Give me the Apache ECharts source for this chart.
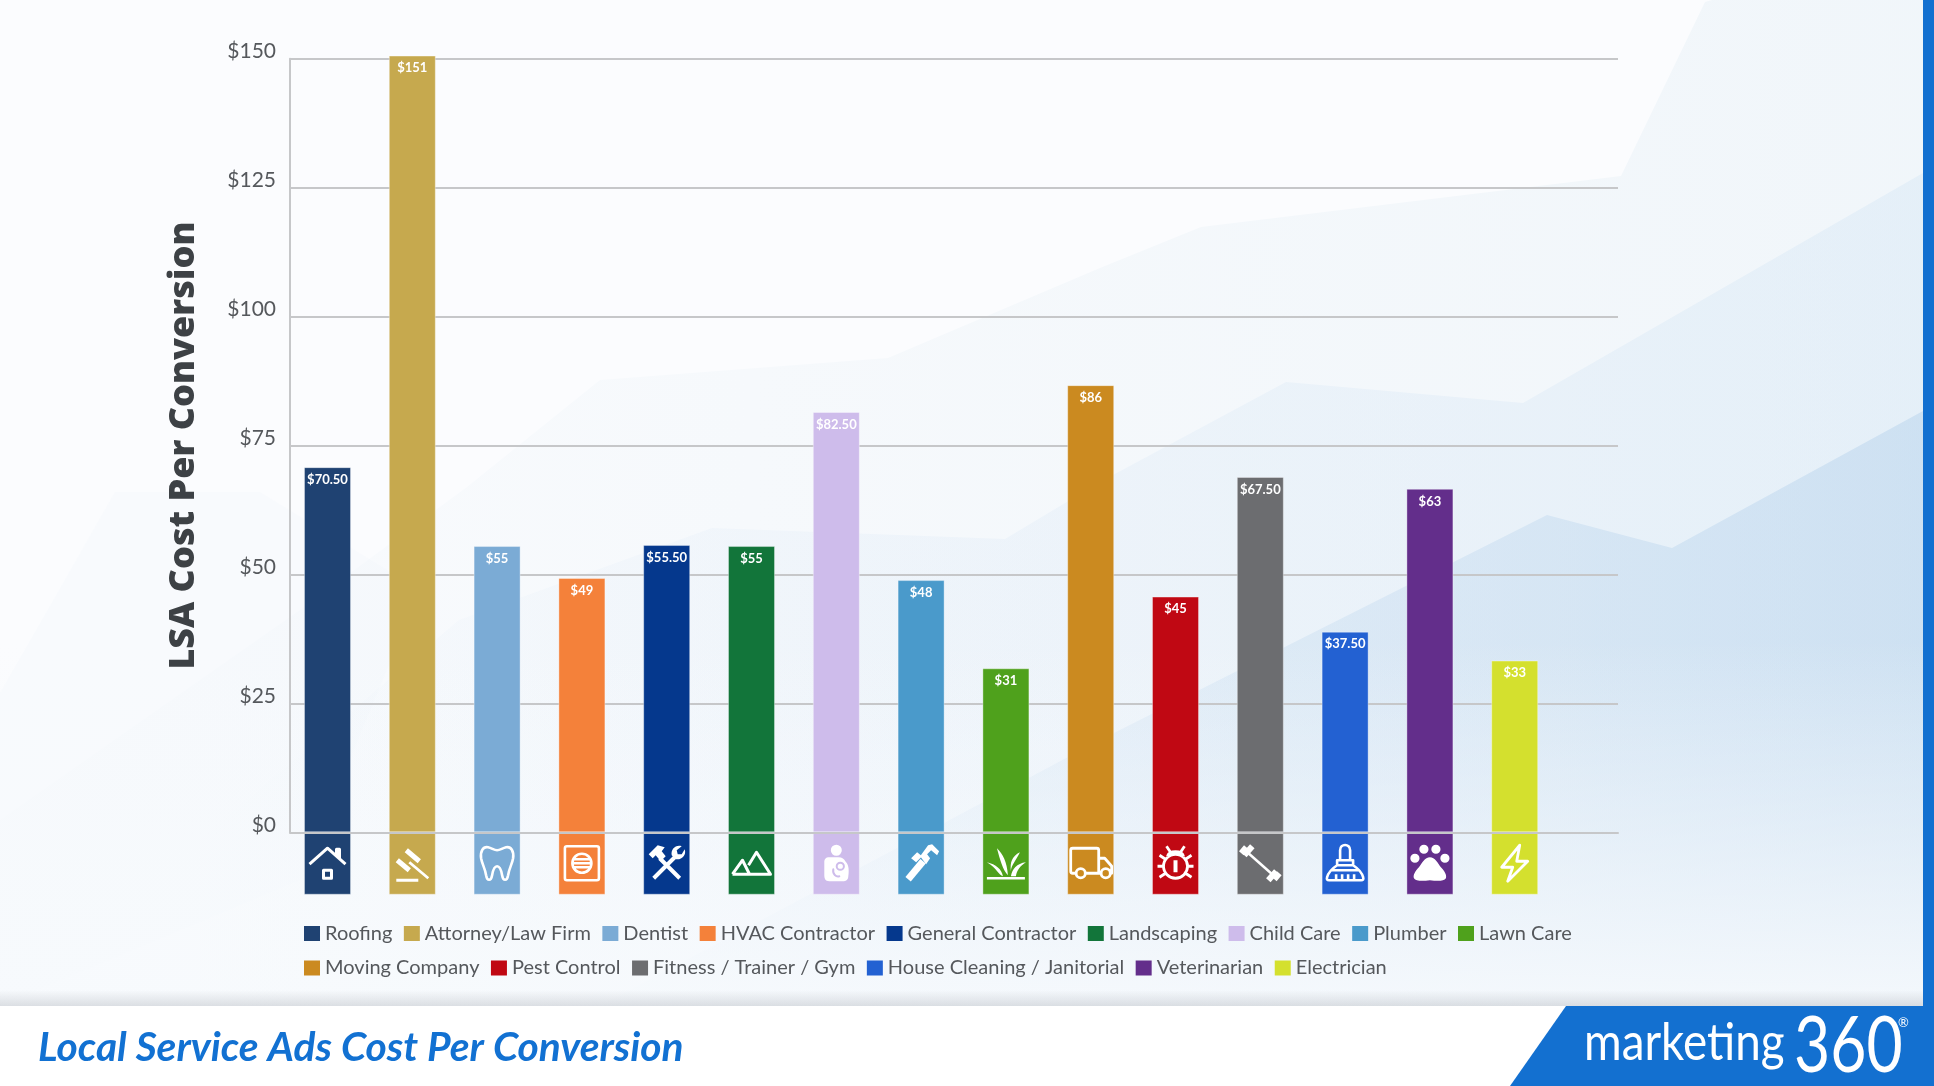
<!DOCTYPE html>
<html><head><meta charset="utf-8">
<style>html,body{margin:0;padding:0;background:#fff}#chart{width:1934px;height:1086px}</style>
<script src="https://cdn.jsdelivr.net/npm/echarts@6/dist/echarts.min.js"></script>
</head><body><div id="chart"></div>
<script>
const categories = ['Roofing','Attorney/Law Firm','Dentist','HVAC Contractor','General Contractor','Landscaping','Child Care','Plumber','Lawn Care','Moving Company','Pest Control','Fitness / Trainer / Gym','House Cleaning / Janitorial','Veterinarian','Electrician'];
const barValues = [70.8,150.6,55.5,49.3,55.7,55.5,81.5,48.9,31.8,86.7,45.7,68.9,38.9,66.6,33.3];
const valueLabels = ['$70.50','$151','$55','$49','$55.50','$55','$82.50','$48','$31','$86','$45','$67.50','$37.50','$63','$33'];
const barColors = ['#1f4272','#c6a94e','#7babd5','#f4813a','#05388d','#12753a','#cebceb','#4a9acb','#4fa11c','#cb8a20','#c00813','#6c6d70','#2361d2','#632e8b','#d4e02e'];
const yTicks = [0,25,50,75,100,125,150];
const footerDepth = -12.1;
const iconAnchor = -6;

const dot = (x,y,r)=>`M${x-r} ${y}a${r} ${r} 0 1 0 ${2*r} 0a${r} ${r} 0 1 0 ${-2*r} 0Z`;
// Icon outlines, drawn in a 40x40 box around the icon's centre. s/w = stroke + width, s2/w2 = second stroke, f = fill, c = cut-out in bar colour
const icons = [
 {w:3,s:'M-18 1L0 -15L18 1M9 -8V-14H12V-5M-4 7H4V15H-4Z'},
 {w:5,s:'M-15 -3L-3 7M-6 -13L7 -2',w2:2.8,s2:'M-3 -1L16 15M-16 17H6'},
 {w:2.6,s:'M-9 -16C-14 -17 -17 -12 -16 -5C-15 1 -12 5 -11 12C-10 18 -6 18 -5 12C-4 6 -2 3 0 3C2 3 4 6 5 12C6 18 10 18 11 12C12 5 15 1 16 -5C17 -12 14 -17 9 -16C5 -15 3 -13 0 -13C-3 -13 -5 -15 -9 -16Z'},
 {w:2.6,s:'M-15 -17H15Q17 -17 17 -15V15Q17 17 15 17H-15Q-17 17 -17 15V-15Q-17 -17 -15 -17Z'+dot(0,0,9.5)+'M-8 -4H8M-9 0H9M-8 4H8'},
 {w:4,s:'M13 15L-7 -5M-13 15L8 -6',f:'M-18 -9L-9 -18L-2 -16L-5 -12L-1 -7L-6 -2L-11 -8L-14 -5ZM18 -14C20 -8 15 -3 9 -4L5 -8C4 -14 9 -19 15 -17L10 -13L11 -9L15 -9Z'},
 {w:3,s:'M-19 11H19L5 -11L-3 2M-19 11L-9 -3L-2 11'},
 {f:dot(0,-13,5.5)+'M-8 -6H2C6 -6 8 -4 9 -2C12 1 13 5 12 13C12 17 9 18 7 18H-7C-11 18 -12 15 -12 12V-2C-12 -4 -10 -6 -8 -6Z',c:dot(4,3,3.6)+'M-3 6C-4 11 0 14 3 13'},
 {w:7,s:'M-13 16L2 -2',f:'M-1 -7L7 -18L11 -19L18 -12L16 -8L10 -13L6 -9L9 -5L5 1ZM-10 -5L-4 -11L1 -7L-5 -1Z'},
 {w:2.4,s:'M-19 15H19',f:'M-9 -15C-3 -9 1 -2 2 12C-3 7 -6 -4 -9 -15ZM14 -11C6 -7 4 -1 5 8C5 2 11 -4 14 -11ZM-19 -1C-10 1 -4 6 -3 13C-7 12 -9 5 -19 -1ZM20 -1C11 0 6 6 5 13H10C11 7 14 3 20 -1Z'},
 {w:2.8,s:'M-15 10H-18Q-20 10 -20 8V-13Q-20 -15 -18 -15H6Q8 -15 8 -13V10H-5M10 10H8M8 -5H14L21 3V10H20'+dot(-10,10,4.6)+dot(15,10,4.6)},
 {w:2.8,s:dot(0,3,12)+'M-8 -7C-6 -13 6 -13 8 -7M-5 -11L-9 -17M5 -11L9 -17M-12 3H-18M12 3H18M-10 -4L-16 -8M10 -4L16 -8M-10 10L-16 14M10 10L16 14',f:'M-2 -3H2V9H-2Z'},
 {w:2.5,s:'M-13 -11L13 12',w2:6,s2:'M-16 -8L-8 -17M16 8L8 17M-19 -10L-14 -16M19 10L14 16'},
 {w:2.6,s:'M-5 -3V-13C-5 -20 5 -20 5 -13V-3M-8 -3H8V2H-8ZM-8 2C-14 6 -17 10 -18 14Q-19 17 -16 17H16Q19 17 18 14C17 10 14 6 8 2M-9 17V11M-3 17V11M3 17V11M9 17V11M-14 7H14'},
 {f:dot(-15,-5,4.6)+dot(-6,-14,4.6)+dot(6,-14,4.6)+dot(15,-5,4.6)+'M0 -6C5 -6 8 0 11 4C15 8 17 12 16 15C14 18 8 18 0 17C-8 18 -14 18 -16 15C-17 12 -15 8 -11 4C-8 0 -5 -6 0 -6Z'},
 {w:2.8,s:'M5 -18L-13 4H-2L-7 18L13 -2H2Z'}
];
const corners = 'M-21 -21h0M21 21h0';

function iconItem(params, api){
  const idx = api.value(0);
  const p = api.coord([idx, api.value(1)]);
  const ic = icons[idx];
  const piece = (d, style) => ({type:'path', shape:{pathData:corners+d, x:-21, y:-21, width:42, height:42, layout:'cover'}, style});
  const children = [];
  if (ic.f) children.push(piece(ic.f,{fill:'#fff',stroke:null}));
  if (ic.s) children.push(piece(ic.s,{fill:null,stroke:'#fff',lineWidth:ic.w,lineJoin:'round'}));
  if (ic.s2) children.push(piece(ic.s2,{fill:null,stroke:'#fff',lineWidth:ic.w2}));
  if (ic.c) children.push(piece(ic.c,{fill:null,stroke:barColors[idx],lineWidth:2,lineCap:'round'}));
  return {type:'group', x:p[0], y:p[1], children};
}

const poly = (points, fill, z) => ({type:'polygon', z:z===undefined?-5:z, silent:true, shape:{points}, style:{fill}});
const hGrad = (stops) => ({type:'linear',x:0,y:0,x2:1,y2:0,colorStops:stops});
const vGrad = (stops) => ({type:'linear',x:0,y:0,x2:0,y2:1,colorStops:stops});

const background = [
  {type:'rect', z:-6, silent:true, shape:{x:0,y:0,width:1934,height:1006}, style:{fill:'#fbfcfe'}},
  poly([[0,693],[115,492],[260,492],[420,590],[300,880],[0,1006]], 'rgba(232,240,246,0.14)'),
  poly([[0,820],[300,610],[467,487],[600,380],[888,358],[1100,268],[1201,227],[1621,176],[1705,2],[1712,0],[1934,0],[1934,1006],[0,1006]], hGrad([{offset:0,color:'rgba(236,243,248,0.1)'},{offset:0.5,color:'rgba(236,243,248,0.4)'},{offset:1,color:'rgba(232,241,247,0.55)'}])),
  poly([[200,840],[459,620],[712,528],[1005,539],[1100,482],[1286,382],[1523,403],[1923,173],[1934,167],[1934,1006],[200,1006]], hGrad([{offset:0,color:'rgba(222,234,247,0.02)'},{offset:0.4,color:'rgba(222,234,247,0.3)'},{offset:1,color:'rgba(214,231,245,0.45)'}])),
  poly([[600,1006],[1100,740],[1547,515],[1672,548],[1923,411],[1934,405],[1934,1006]], hGrad([{offset:0,color:'rgba(198,220,240,0.12)'},{offset:0.6,color:'rgba(198,220,240,0.45)'},{offset:1,color:'rgba(190,215,238,0.6)'}])),
  {type:'rect', z:-4, silent:true, shape:{x:0,y:640,width:1934,height:366}, style:{fill:vGrad([{offset:0,color:'rgba(247,250,253,0)'},{offset:1,color:'rgba(247,250,253,0.92)'}])}},
  {type:'rect', z:-3, silent:true, shape:{x:0,y:990,width:1934,height:16}, style:{fill:vGrad([{offset:0,color:'rgba(120,125,135,0)'},{offset:1,color:'rgba(120,125,135,0.22)'}])}},
  {type:'rect', z:-3, silent:true, shape:{x:0,y:1006,width:1934,height:80}, style:{fill:'#ffffff'}},
  {type:'rect', z:-2, silent:true, shape:{x:1923,y:0,width:11,height:1006}, style:{fill:'#1370d0'}},
  poly([[1566,1006],[1510,1086],[1934,1086],[1934,1006]], '#1370d0', -2),
  {type:'text', z:10, silent:true, x:1584, y:1043, scaleX:0.88, style:{text:'marketing', fill:'#fff', font:'400 52px Lato', verticalAlign:'middle'}},
  {type:'text', z:10, silent:true, x:1794, y:1047, scaleX:0.8, style:{text:'360', fill:'#fff', font:'400 78px Lato', verticalAlign:'middle'}},
  {type:'text', z:10, silent:true, x:1898, y:1016, style:{text:'®', fill:'#fff', font:'400 13px Lato'}}
];

const barSeries = categories.map((name,i)=>({
  name, type:'bar', stack:'all', barWidth:47, clip:false, z:2,
  itemStyle:{color:barColors[i], borderColor:'rgba(255,255,255,0.35)', borderWidth:1},
  label:{show:true, position:'insideTop', distance:6, color:'#fff', fontFamily:'Lato', fontWeight:'bold', fontSize:13,
         formatter:()=>valueLabels[i]},
  data:[[i, barValues[i]]]
}));
const footerSeries = {
  name:'footer', type:'bar', stack:'all', barWidth:47, clip:false, z:2, silent:true,
  data: categories.map((c,i)=>({value:[i, footerDepth], itemStyle:{color:barColors[i], borderColor:'rgba(255,255,255,0.35)', borderWidth:1}}))
};
const iconSeries = {
  type:'custom', name:'icons', z:4, silent:true, clip:false, renderItem:iconItem,
  encode:{x:0,y:1}, data: categories.map((c,i)=>[i, iconAnchor])
};

const chart = echarts.init(document.getElementById('chart'), null, {renderer:'canvas'});
chart.setOption({
  animation:false,
  backgroundColor:'#fff',
  graphic:{elements:background},
  title:{text:'Local Service Ads Cost Per Conversion', left:33, top:1022,
    textStyle:{color:'#1271d2', fontFamily:'Lato', fontStyle:'italic', fontWeight:'bold', fontSize:40.7}},
  legend:{data:categories, left:304, top:922, width:1340, padding:0, orient:'horizontal', itemWidth:16, itemHeight:15, itemGap:11.5,
    icon:'rect', symbolKeepAspect:false, selectedMode:false, itemStyle:{borderWidth:0},
    textStyle:{color:'#55585c', fontFamily:'Lato', fontSize:20, lineHeight:23}},
  grid:{left:290, right:316, top:58.7, bottom:253.7, containLabel:false},
  xAxis:{type:'value', min:-0.4422, max:15.218, z:3, splitLine:{show:false}, axisTick:{show:false}, axisLabel:{show:false},
    axisLine:{show:true, onZero:true, lineStyle:{color:'#c6c7c9', width:2}}},
  yAxis:{type:'value', min:yTicks[0], max:yTicks[yTicks.length-1], interval:25,
    name:'LSA Cost Per Conversion', nameLocation:'middle', nameRotate:90, nameGap:88,
    nameTextStyle:{color:'#3d4145', fontFamily:'Open Sans', fontWeight:800, fontSize:36},
    axisTick:{show:false},
    axisLine:{show:true, onZero:false, lineStyle:{color:'#c6c7c9', width:2}},
    splitLine:{show:true, lineStyle:{color:'#c6c7c9', width:2}},
    axisLabel:{formatter:v=>'$'+v, color:'#55585c', fontFamily:'Lato', fontSize:21, margin:14, verticalAlign:'bottom', lineHeight:14}},
  series:[...barSeries, footerSeries, iconSeries]
});
</script></body></html>
